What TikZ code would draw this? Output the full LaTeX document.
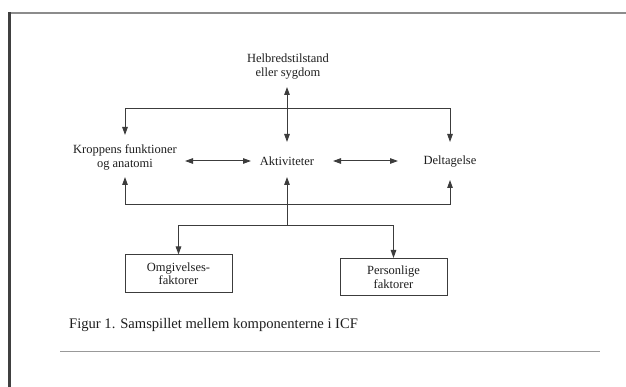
\documentclass[tikz,border=0pt]{standalone}
\usepackage{fontspec}
\setmainfont{Liberation Serif}
\usetikzlibrary{arrows.meta}
\definecolor{ink}{HTML}{1E1E1E}
\definecolor{linec}{HTML}{3C3C3C}
\tikzset{
  lbl/.style={font=\fontsize{12.5}{14}\selectfont, text=ink, align=center, inner sep=0pt},
  fbox/.style={draw=linec, line width=1pt, font=\fontsize{12.5}{13.5}\selectfont, text=ink, align=center, minimum width=107pt, minimum height=37pt, inner sep=0pt},
  conn/.style={draw=linec, line width=1pt},
  arr/.style={conn, -{Triangle[length=8pt,width=5.5pt]}},
  both/.style={conn, {Triangle[length=8pt,width=5.5pt]}-{Triangle[length=8pt,width=5.5pt]}}
}
\begin{document}
\begin{tikzpicture}[x=1pt,y=-1pt]
\useasboundingbox (0,0) rectangle (626,387);
\fill[white] (0,0) rectangle (626,387);
% scanned page frame
\draw[draw=black!45, line width=1.6pt] (9,13) -- (626,13);
\draw[draw=black!75, line width=3pt] (9.5,12.5) -- (9.5,387);
% nodes
\node[lbl] (helb) at (288,67) {Helbredstilstand\\eller sygdom};
\node[lbl] (krop) at (125,157) {Kroppens funktioner\\og anatomi};
\node[lbl] (akt) at (287,161) {Aktiviteter};
\node[lbl] (delt) at (450,162) {Deltagelse};
\node[fbox] (omg) at (178.5,273.5) {Omgivelses-\\faktorer};
\node[fbox] (pers) at (393.5,277) {Personlige\\faktorer};
\coordinate (top) at (287,109);
\coordinate (bot) at (287,205);
\coordinate (mid) at (287,226);
% connectors
\draw[both, shorten <=20pt, shorten >=19pt] (helb.center -| akt.center) -- (akt.center);
\draw[arr, shorten >=22pt] (top) -| (krop.center);
\draw[arr, shorten >=20pt] (top) -| (delt.center);
\draw[both, shorten <=60pt, shorten >=36pt] (akt.center -| krop.center) -- (akt.center);
\draw[both, shorten <=46pt, shorten >=52pt] (akt.center) -- (akt.center -| delt.center);
\draw[arr, shorten >=16pt] (mid) -- (akt.center);
\draw[arr, shorten >=20pt] (bot) -| (krop.center);
\draw[arr, shorten >=18pt] (bot) -| (delt.center);
\draw[arr] (mid) -| (omg.north);
\draw[arr] (mid) -| (pers.north);
% caption and rule
\node[font=\fontsize{14.6}{16}\selectfont, text=ink, anchor=west, inner sep=0pt] (cap) at (69,325) {Figur 1. Samspillet mellem komponenterne i ICF};
\draw[draw=black!40, line width=0.8pt] (60,351) -- (600,351);
\end{tikzpicture}
\end{document}
